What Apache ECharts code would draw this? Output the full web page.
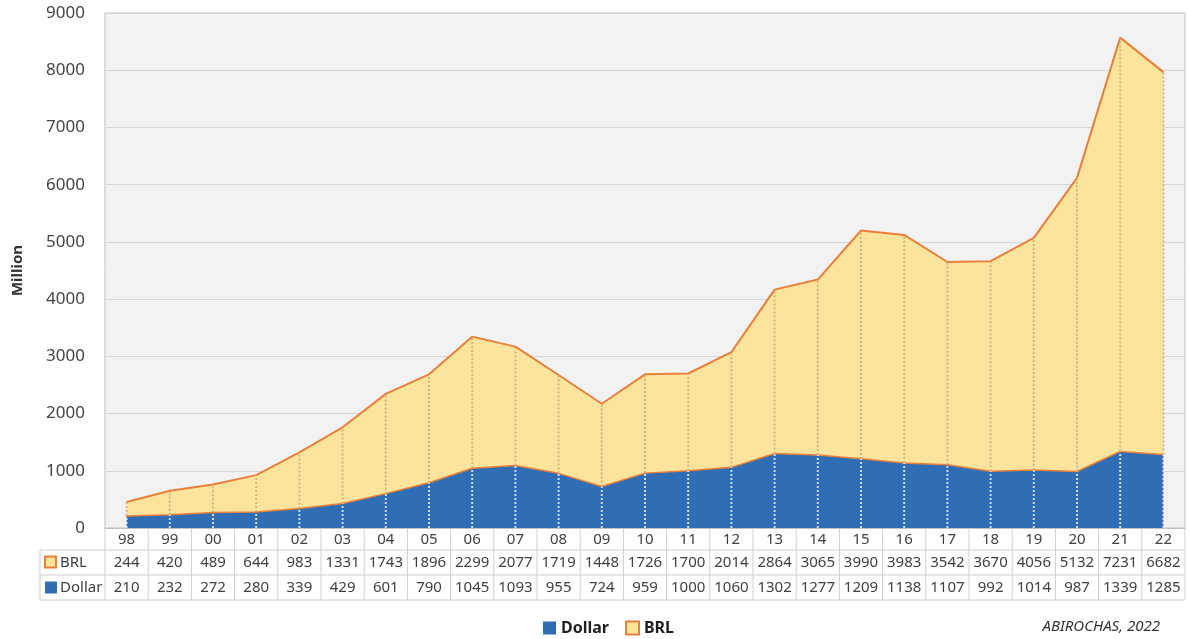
<!DOCTYPE html>
<html>
<head>
<meta charset="utf-8">
<script src="https://cdn.jsdelivr.net/npm/echarts@6/dist/echarts.min.js"></script>
<style>
  html, body { margin: 0; padding: 0; background: #ffffff; }
  #chart { width: 1190px; height: 639px; }
</style>
</head>
<body>
<div id="chart"></div>
<script>
// Years (two-digit) and exports in million, Dollar and BRL
const years = ['98','99','00','01','02','03','04','05','06','07','08','09','10','11','12','13','14','15','16','17','18','19','20','21','22'];
const dollar = [210,232,272,280,339,429,601,790,1045,1093,955,724,959,1000,1060,1302,1277,1209,1138,1107,992,1014,987,1339,1285];
const brl = [244,420,489,644,983,1331,1743,1896,2299,2077,1719,1448,1726,1700,2014,2864,3065,3990,3983,3542,3670,4056,5132,7231,6682];
const yTicks = { min: 0, max: 9000, interval: 1000 };

const BLUE = '#2f6db5';
const YELLOW = '#fde49c';
const ORANGE = '#e8803a';
const FONT = 'Noto Sans';

const GRID = { left: 105, right: 5, top: 13, bottom: 111 };

const chart = echarts.init(document.getElementById('chart'), null, { renderer: 'canvas' });

// Vertical dotted drop line between two stacked levels for each year
function dropLine(lowFn, highFn, color) {
  return function (params, api) {
    const i = params.dataIndex;
    const p0 = api.coord([i, lowFn(i)]);
    const p1 = api.coord([i, highFn(i)]);
    return {
      type: 'line',
      shape: { x1: p0[0], y1: p0[1], x2: p1[0], y2: p1[1] },
      style: { stroke: color, lineWidth: 2, lineDash: [2, 2] },
      silent: true
    };
  };
}

chart.setOption({
  animation: false,
  textStyle: { fontFamily: FONT },
  grid: {
    left: GRID.left, right: GRID.right, top: GRID.top, bottom: GRID.bottom,
    show: true, backgroundColor: '#f2f2f2', borderColor: '#c0c0c0', borderWidth: 1
  },
  legend: {
    data: [
      { name: 'Dollar', itemStyle: { color: BLUE, borderWidth: 0 } },
      { name: 'BRL', itemStyle: { color: YELLOW, borderColor: ORANGE, borderWidth: 2 } }
    ],
    left: 538, top: 615, icon: 'rect', itemWidth: 13, itemHeight: 13, itemGap: 16,
    textStyle: { fontFamily: FONT, fontWeight: 'bold', fontSize: 16, color: '#1f1f1f' }
  },
  xAxis: {
    type: 'category', data: years, boundaryGap: true,
    axisLine: { show: true, lineStyle: { color: '#c0c0c0' } },
    axisTick: { show: false }, axisLabel: { show: false }, splitLine: { show: false }
  },
  yAxis: {
    type: 'value', min: yTicks.min, max: yTicks.max, interval: yTicks.interval,
    name: 'Million', nameLocation: 'middle', nameGap: 80, nameRotate: 90,
    nameTextStyle: { fontFamily: FONT, fontWeight: 'bold', fontSize: 15, color: '#333' },
    axisLine: { show: false }, axisTick: { show: false },
    axisLabel: { fontFamily: FONT, fontSize: 17, color: '#444', margin: 20, formatter: v => String(v) },
    splitLine: { lineStyle: { color: '#d6d6d6', width: 1 } }
  },
  series: [
    {
      name: 'Dollar', type: 'line', stack: 'total', data: dollar, symbol: 'none',
      lineStyle: { color: ORANGE, width: 1.5 }, itemStyle: { color: BLUE },
      areaStyle: { color: BLUE, opacity: 1 }, z: 2
    },
    {
      name: 'BRL', type: 'line', stack: 'total', data: brl, symbol: 'none',
      lineStyle: { color: ORANGE, width: 2 }, itemStyle: { color: YELLOW },
      areaStyle: { color: YELLOW, opacity: 1 }, z: 2
    },
    {
      type: 'custom', data: dollar, z: 3, silent: true,
      renderItem: dropLine(() => 0, i => dollar[i], 'rgba(235,240,250,0.85)')
    },
    {
      type: 'custom', data: brl, z: 3, silent: true,
      renderItem: dropLine(i => dollar[i], i => dollar[i] + brl[i], 'rgba(200,170,120,0.8)')
    }
  ]
});

// Data table under the plot, built from the same arrays
function buildTable() {
  const g = [];
  const lineColor = '#cfcfcf';
  const xs = years.map((_, i) => chart.convertToPixel({ xAxisIndex: 0 }, i));
  const band = xs.length > 1 ? xs[1] - xs[0] : 40;
  const x0 = xs[0] - band / 2;
  const x1 = xs[xs.length - 1] + band / 2;
  const yTop = chart.convertToPixel({ yAxisIndex: 0 }, 0);
  const rowH = [22, 25, 25];
  const rows = [yTop, yTop + rowH[0], yTop + rowH[0] + rowH[1], yTop + rowH[0] + rowH[1] + rowH[2]];
  const labelLeft = 40;
  const txt = { fontFamily: FONT, fontSize: 15, fill: '#404040', align: 'center', verticalAlign: 'middle' };

  // Horizontal rules
  g.push({ type: 'line', shape: { x1: x0, y1: rows[1], x2: x1, y2: rows[1] }, style: { stroke: lineColor }, silent: true });
  g.push({ type: 'line', shape: { x1: labelLeft, y1: rows[1], x2: x0, y2: rows[1] }, style: { stroke: lineColor }, silent: true });
  g.push({ type: 'line', shape: { x1: labelLeft, y1: rows[2], x2: x1, y2: rows[2] }, style: { stroke: lineColor }, silent: true });
  g.push({ type: 'line', shape: { x1: labelLeft, y1: rows[3], x2: x1, y2: rows[3] }, style: { stroke: lineColor }, silent: true });
  // Vertical rules
  g.push({ type: 'line', shape: { x1: labelLeft, y1: rows[1], x2: labelLeft, y2: rows[3] }, style: { stroke: lineColor }, silent: true });
  for (let i = 0; i <= years.length; i++) {
    const x = x0 + i * band;
    g.push({ type: 'line', shape: { x1: x, y1: rows[0], x2: x, y2: rows[3] }, style: { stroke: lineColor }, silent: true });
  }
  // Cell text
  years.forEach((yr, i) => {
    g.push({ type: 'text', x: xs[i], y: (rows[0] + rows[1]) / 2 + 1, style: Object.assign({ text: yr }, txt), silent: true });
    g.push({ type: 'text', x: xs[i], y: (rows[1] + rows[2]) / 2, style: Object.assign({ text: String(brl[i]) }, txt), silent: true });
    g.push({ type: 'text', x: xs[i], y: (rows[2] + rows[3]) / 2, style: Object.assign({ text: String(dollar[i]) }, txt), silent: true });
  });
  // Row keys
  const keyX = labelLeft + 5;
  const brlMid = (rows[1] + rows[2]) / 2;
  const dolMid = (rows[2] + rows[3]) / 2;
  g.push({ type: 'rect', shape: { x: keyX, y: brlMid - 6, width: 11, height: 11 }, style: { fill: YELLOW, stroke: ORANGE, lineWidth: 2 }, silent: true });
  g.push({ type: 'text', x: keyX + 15, y: brlMid, style: Object.assign({}, txt, { text: 'BRL', align: 'left' }), silent: true });
  g.push({ type: 'rect', shape: { x: keyX, y: dolMid - 6, width: 12, height: 12 }, style: { fill: BLUE }, silent: true });
  g.push({ type: 'text', x: keyX + 15, y: dolMid, style: Object.assign({}, txt, { text: 'Dollar', align: 'left' }), silent: true });

  // Source note
  g.push({ type: 'text', x: 1160, y: 627, style: { text: 'ABIROCHAS, 2022', fontFamily: FONT, fontSize: 15, fontStyle: 'italic', fill: '#333', align: 'right', verticalAlign: 'middle' }, silent: true });

  chart.setOption({ graphic: { elements: g } });
}
buildTable();
</script>
</body>
</html>
